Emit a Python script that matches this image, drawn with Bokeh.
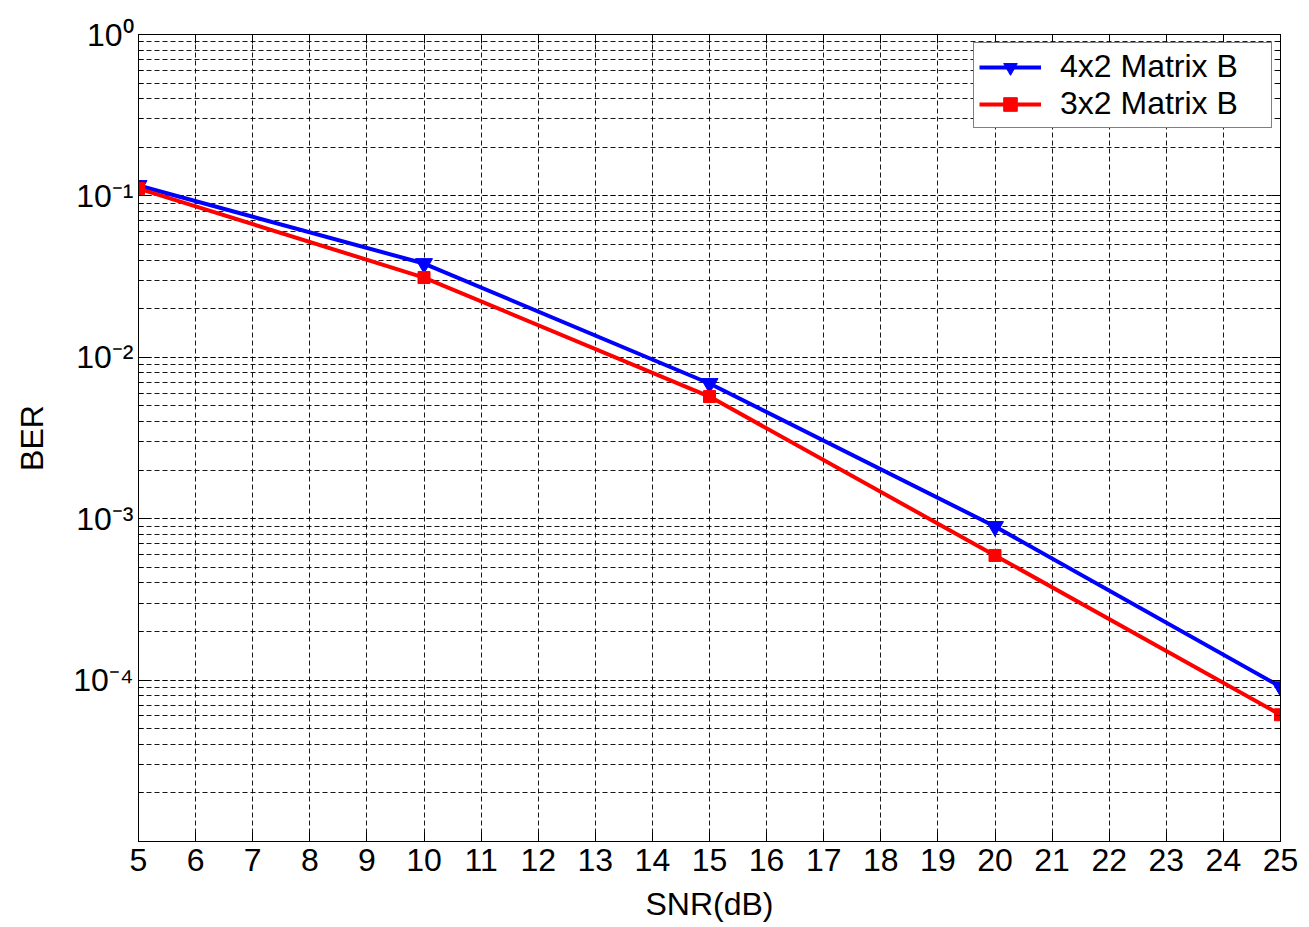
import numpy as np
from bokeh.plotting import figure
from bokeh.models import (FixedTicker, LinearAxis, LogAxis, CustomJSTickFormatter)
from bokeh.embed import file_html
from bokeh.resources import INLINE

# ---- data ----
snr_db = [5, 10, 15, 20, 25]
ber_4x2 = [0.116, 0.0381, 0.00688, 0.000895, 9.1e-5]
ber_3x2 = [0.111, 0.0312, 0.00571, 0.000592, 6.1e-5]
series_names = ["4x2 Matrix B", "3x2 Matrix B"]
x_ticks = list(range(5, 26))
y_exponents = [0, -1, -2, -3, -4]
y_decades = [-5, -4, -3, -2, -1, 0]

FONT = "Liberation Sans"
FS = "32px"

major_y = [10.0 ** e for e in y_exponents]
minor_y = [m * 10.0 ** e for e in y_decades[:-1] for m in range(1, 10)]

p = figure(width=1309, height=927, y_axis_type="log",
           x_range=(5, 25), y_range=(1e-5, 1),
           output_backend="svg", toolbar_location=None)
p.min_border_left = 138
p.min_border_right = 29
p.min_border_top = 34
p.min_border_bottom = 86
p.background_fill_color = "white"
p.border_fill_color = "white"
p.outline_line_color = "black"
p.outline_line_width = 1

xt = FixedTicker(ticks=x_ticks, minor_ticks=[])
yt = FixedTicker(ticks=major_y, minor_ticks=minor_y)

xa = p.xaxis[0]
xa.ticker = xt
ya = p.yaxis[0]
ya.ticker = yt
# "10" followed by the exponent written with superscript characters
ya.formatter = CustomJSTickFormatter(code="""
const sup = {'-':'\u207b','0':'\u2070','1':'\u00b9','2':'\u00b2','3':'\u00b3','4':'\u2074',
             '5':'\u2075','6':'\u2076','7':'\u2077','8':'\u2078','9':'\u2079'};
const e = String(Math.round(Math.log10(tick)));
let s = '';
for (const c of e) { s += sup[c]; }
return '10' + s;
""")

for ax in (xa, ya):
    ax.major_tick_in = 9
    ax.major_tick_out = 0
    ax.minor_tick_in = 5
    ax.minor_tick_out = 0
    ax.axis_line_color = "black"
    ax.major_tick_line_color = "black"
    ax.minor_tick_line_color = "black"
    ax.major_label_text_font = FONT
    ax.major_label_text_font_size = FS
    ax.major_label_text_color = "black"
    ax.axis_label_text_font = FONT
    ax.axis_label_text_font_size = FS
    ax.axis_label_text_font_style = "normal"
    ax.axis_label_text_color = "black"

xa.axis_label = "SNR(dB)"
xa.major_label_standoff = 7
xa.axis_label_standoff = 12
ya.axis_label = "BER"
ya.major_label_standoff = 5
ya.axis_label_standoff = 20

blank = CustomJSTickFormatter(code="return '';")
top = LinearAxis(ticker=xt, formatter=blank,
                 major_tick_in=9, major_tick_out=0, axis_line_color="black")
right = LogAxis(ticker=yt, formatter=blank,
                major_tick_in=9, major_tick_out=0, minor_tick_in=5, minor_tick_out=0,
                axis_line_color="black")
p.add_layout(top, "above")
p.add_layout(right, "right")

# grids
p.xgrid.ticker = xt
p.ygrid.ticker = yt
for g in (p.xgrid[0], p.ygrid[0]):
    g.grid_line_color = "black"
    g.grid_line_dash = "5 3"
    g.grid_line_width = 1
    g.grid_line_alpha = 0.9
p.ygrid.minor_grid_line_color = "black"
p.ygrid.minor_grid_line_dash = "5 3"
p.ygrid.minor_grid_line_alpha = 0.9

# series
p.line(snr_db, ber_4x2, line_color="#0000ff", line_width=4, legend_label=series_names[0])
p.scatter(snr_db, ber_4x2, marker="inverted_triangle", size=17, fill_color="#0000ff",
          line_color="#0000ff", legend_label=series_names[0])
p.line(snr_db, ber_3x2, line_color="#ff0000", line_width=4, legend_label=series_names[1])
p.scatter(snr_db, ber_3x2, marker="square", size=12, fill_color="#ff0000",
          line_color="#ff0000", legend_label=series_names[1])

lg = p.legend[0]
lg.location = "top_right"
lg.margin = 8
lg.padding = 5
lg.spacing = 0
lg.label_height = 34
lg.glyph_height = 34
lg.glyph_width = 62
lg.label_standoff = 19
lg.label_width = 206
lg.label_text_font = FONT
lg.label_text_font_size = FS
lg.label_text_color = "black"
lg.border_line_color = "black"
lg.border_line_width = 1
lg.background_fill_color = "white"
lg.background_fill_alpha = 1.0

open("out.html", "w").write(file_html(p, INLINE))
